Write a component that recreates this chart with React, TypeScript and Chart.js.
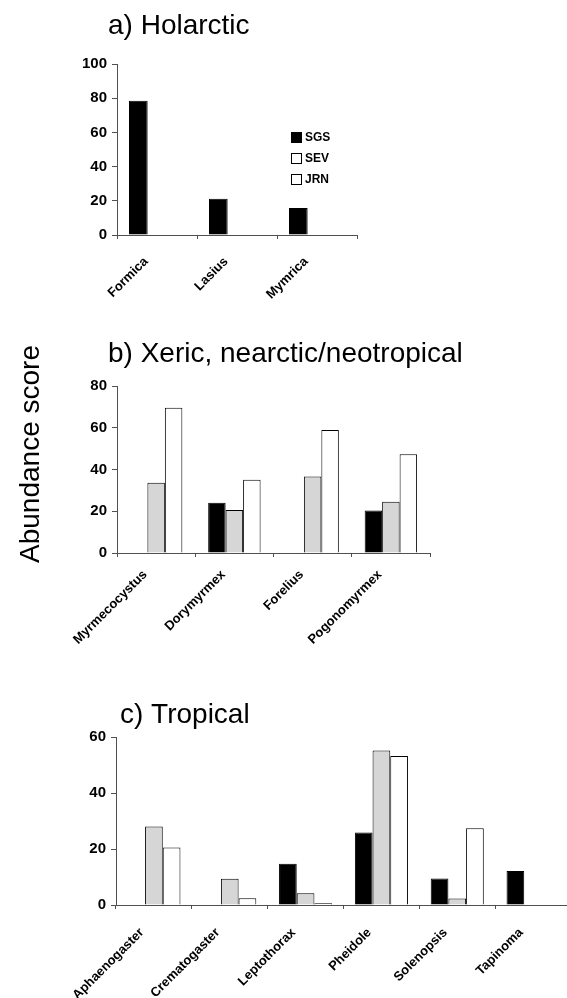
import React, { useEffect, useRef } from "react";
import { Chart, registerables } from "chart.js";

Chart.register(...registerables);

// ---------- data ----------
const seriesNames = ["SGS", "SEV", "JRN"];

const holarcticGenera = ["Formica", "Lasius", "Mymrica"];
const holarcticSGS = [78.5, 21.2, 15.8];
const holarcticSEV = [0, 0, 0];
const holarcticJRN = [0, 0, 0];

const xericGenera = ["Myrmecocystus", "Dorymyrmex", "Forelius", "Pogonomyrmex"];
const xericSGS = [0, 24.1, 0, 20.3];
const xericSEV = [33.7, 20.6, 36.7, 24.6];
const xericJRN = [69.6, 35.1, 58.9, 47.3];

const tropicalGenera = ["Aphaenogaster", "Crematogaster", "Leptothorax", "Pheidole", "Solenopsis", "Tapinoma"];
const tropicalSGS = [0, 0, 14.7, 25.9, 9.5, 12.1];
const tropicalSEV = [28.0, 9.4, 4.2, 55.2, 2.3, 0];
const tropicalJRN = [20.5, 2.4, 0.6, 53.2, 27.4, 0];

const panelTitles = ["a) Holarctic", "b) Xeric, nearctic/neotropical", "c) Tropical"];
const yAxisTitle = "Abundance score";
const yMaxes = [100, 80, 60];
const yStep = 20;

// ---------- styles ----------
const FONT = "'Liberation Sans', Arial, Helvetica, sans-serif";
const barFills = ["#000000", "#d6d6d6", "#ffffff"];
const legendFills = ["#000000", "#ffffff", "#ffffff"];
const axisColor = "#505050";

const textPlugin = {
  id: "panelText",
  afterDraw(chart: any, _args: any, opts: any) {
    const ctx = chart.ctx;
    ctx.save();
    ctx.fillStyle = "#000";
    ctx.textAlign = "left";
    ctx.textBaseline = "alphabetic";
    ctx.font = `28px ${FONT}`;
    if (opts.title) ctx.fillText(opts.title, opts.titleX, opts.titleY);
    if (opts.yTitle) {
      ctx.save();
      ctx.translate(opts.yTitleX, opts.yTitleY);
      ctx.rotate(-Math.PI / 2);
      ctx.textAlign = "center";
      ctx.fillText(opts.yTitle, 0, 0);
      ctx.restore();
    }
    if (opts.legend) {
      const { x, y, gap } = opts.legend;
      ctx.font = `bold 12px ${FONT}`;
      ctx.textBaseline = "middle";
      chart.data.datasets.forEach((ds: any, i: number) => {
        const cy = y + i * gap;
        ctx.fillStyle = legendFills[i];
        ctx.fillRect(x, cy - 5, 10, 10);
        ctx.strokeStyle = "#000";
        ctx.lineWidth = 1;
        ctx.strokeRect(x + 0.5, cy - 4.5, 10, 10);
        ctx.fillStyle = "#000";
        ctx.fillText(ds.label, x + 14, cy + 1);
      });
    }
    ctx.restore();
  },
};

type PanelProps = {
  top: number;
  width: number;
  height: number;
  area: { left: number; top: number; right: number; bottom: number };
  labels: string[];
  sgs: number[];
  sev: number[];
  jrn: number[];
  yMax: number;
  catPct: number;
  labelPad: number;
  labelShift: number;
  text: any;
};

function Panel(p: PanelProps) {
  const ref = useRef<HTMLCanvasElement>(null);
  useEffect(() => {
    if (!ref.current) return;
    const values = [p.sgs, p.sev, p.jrn];
    const chart = new Chart(ref.current, {
      type: "bar",
      data: {
        labels: p.labels,
        datasets: seriesNames.map((name, i) => ({
          label: name,
          data: values[i],
          backgroundColor: barFills[i],
          borderColor: "#000",
          borderWidth: 1,
          categoryPercentage: p.catPct,
          barPercentage: 1,
        })),
      },
      options: {
        animation: false,
        responsive: false,
        devicePixelRatio: 1,
        layout: {
          padding: { left: 0, top: p.area.top, right: p.width - p.area.right, bottom: 0 },
        },
        plugins: {
          legend: { display: false },
          tooltip: { enabled: false },
          panelText: p.text,
        } as any,
        scales: {
          x: {
            afterFit: (s: any) => {
              s.height = p.height - p.area.bottom;
            },
            ticks: {
              minRotation: 45,
              maxRotation: 45,
              autoSkip: false,
              color: "#000",
              font: { family: FONT, size: 13, weight: "bold" },
              padding: p.labelPad,
              labelOffset: p.labelShift,
            },
            grid: { offset: true, drawOnChartArea: false, drawTicks: true, tickLength: 4, color: axisColor },
            border: { display: true, color: axisColor, width: 1 },
          },
          y: {
            min: 0,
            max: p.yMax,
            afterFit: (s: any) => {
              s.width = p.area.left;
            },
            ticks: {
              stepSize: yStep,
              color: "#000",
              font: { family: FONT, size: 15, weight: "bold" },
              padding: 5,
            },
            grid: { drawOnChartArea: false, drawTicks: true, tickLength: 5, color: axisColor },
            border: { display: true, color: axisColor, width: 1 },
          },
        },
      },
      plugins: [textPlugin],
    });
    return () => chart.destroy();
  }, []);
  return (
    <canvas
      ref={ref}
      width={p.width}
      height={p.height}
      style={{ position: "absolute", left: 0, top: p.top, width: p.width, height: p.height }}
    />
  );
}

export default function App() {
  return (
    <div
      style={{
        position: "absolute",
        left: 0,
        top: 0,
        width: 567,
        height: 998,
        overflow: "hidden",
        background: "#fff",
      }}
    >
      <Panel
        top={0}
        width={567}
        height={330}
        area={{ left: 117, top: 64, right: 357, bottom: 235 }}
        labels={holarcticGenera}
        sgs={holarcticSGS}
        sev={holarcticSEV}
        jrn={holarcticJRN}
        yMax={yMaxes[0]}
        catPct={0.7}
        labelPad={15}
        labelShift={-11}
        text={{ title: panelTitles[0], titleX: 108, titleY: 34, legend: { x: 291, y: 137, gap: 21 } }}
      />
      <Panel
        top={330}
        width={567}
        height={345}
        area={{ left: 117, top: 56, right: 430, bottom: 223 }}
        labels={xericGenera}
        sgs={xericSGS}
        sev={xericSEV}
        jrn={xericJRN}
        yMax={yMaxes[1]}
        catPct={0.67}
        labelPad={10}
        labelShift={-11}
        text={{
          title: panelTitles[1],
          titleX: 108,
          titleY: 32,
          yTitle: yAxisTitle,
          yTitleX: 39,
          yTitleY: 124,
        }}
      />
      <Panel
        top={630}
        width={600}
        height={368}
        area={{ left: 116, top: 107, right: 571, bottom: 275 }}
        labels={tropicalGenera}
        sgs={tropicalSGS}
        sev={tropicalSEV}
        jrn={tropicalJRN}
        yMax={yMaxes[2]}
        catPct={0.7}
        labelPad={16}
        labelShift={-12}
        text={{ title: panelTitles[2], titleX: 120, titleY: 93 }}
      />
    </div>
  );
}
